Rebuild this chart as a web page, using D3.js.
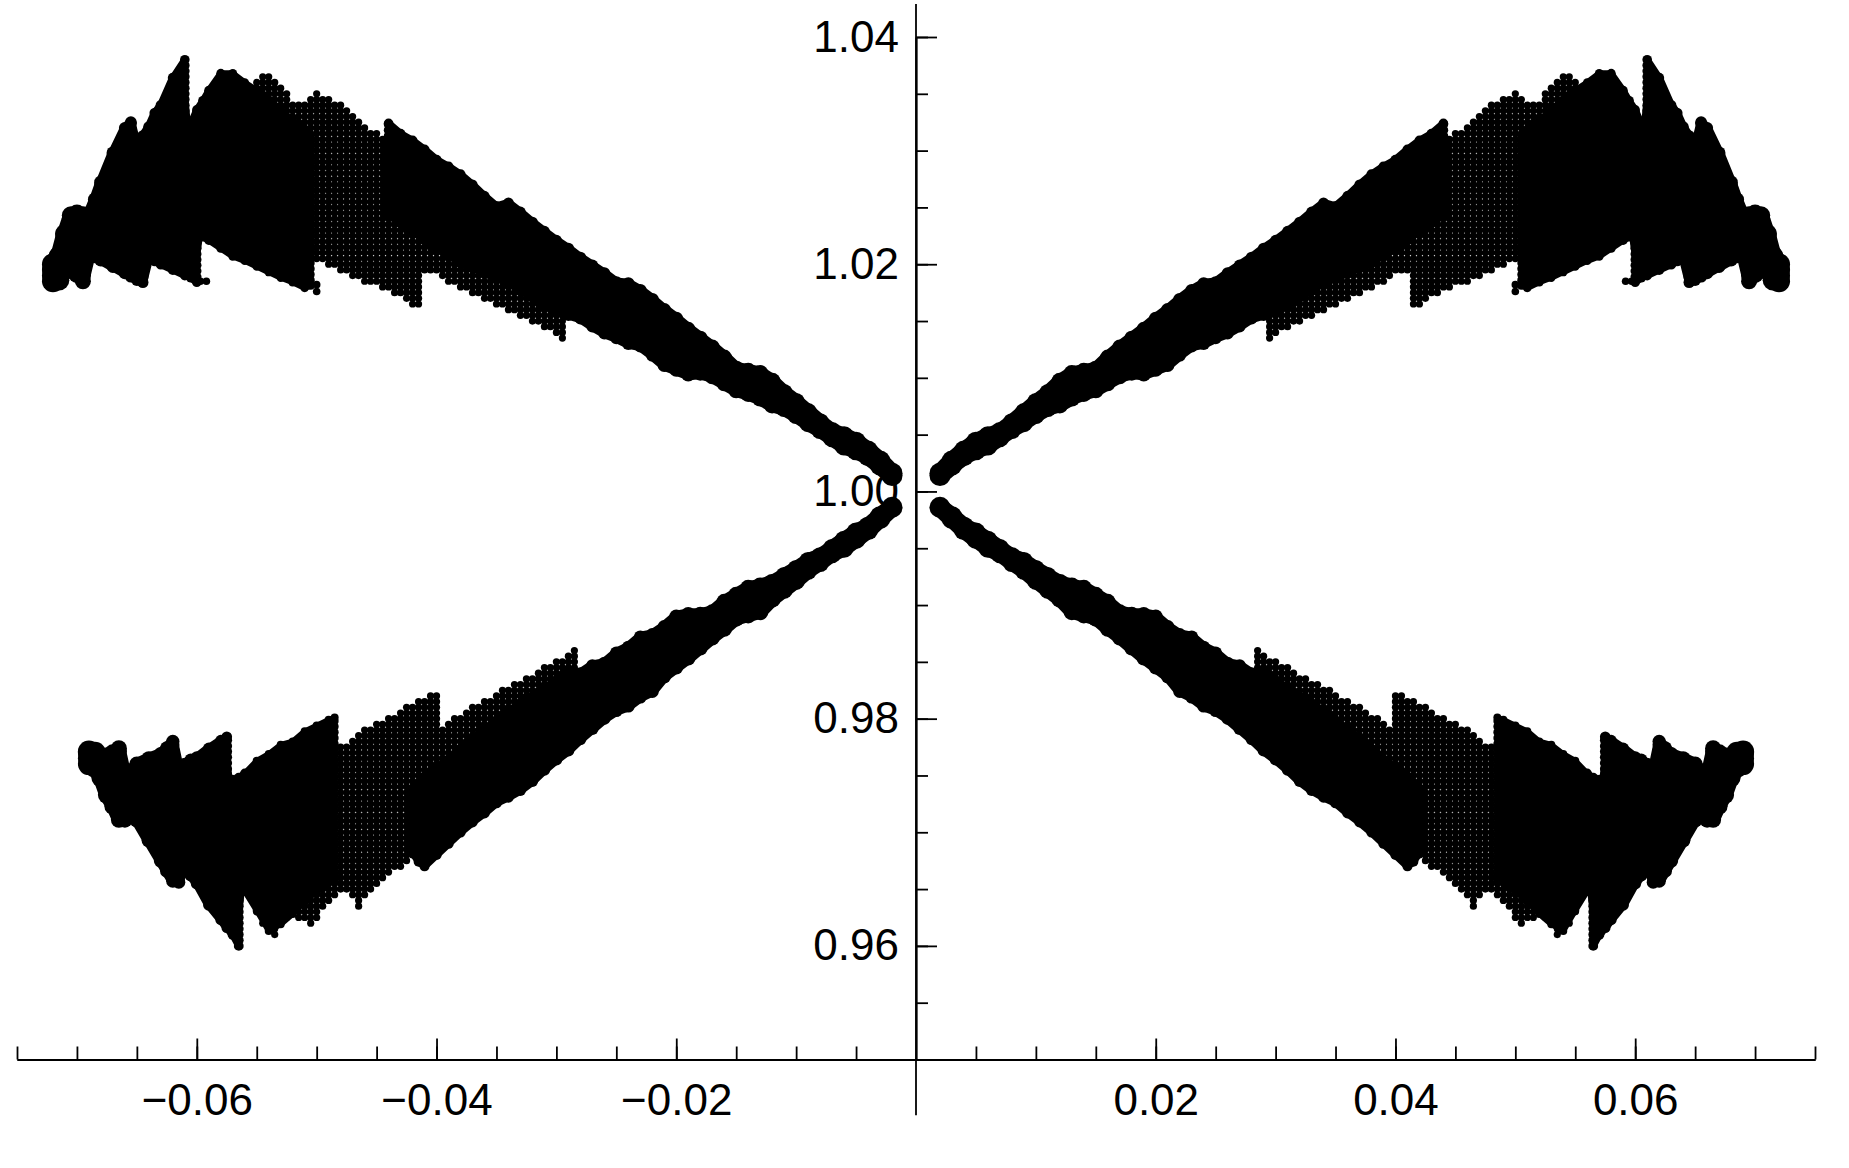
<!DOCTYPE html>
<html>
<head>
<meta charset="utf-8">
<script src="https://cdn.jsdelivr.net/npm/d3@7/dist/d3.min.js"></script>
<style>html,body{margin:0;padding:0;background:#fff}svg{display:block}</style>
</head>
<body>
<script>
// ---- values; |x| is mirrored to both sides of the axis ----
const xLabelTicks = [-0.06,-0.04,-0.02,0.02,0.04,0.06];
const xMinorTicks = [-0.075,-0.07,-0.065,-0.06,-0.055,-0.05,-0.045,-0.04,-0.035,-0.03,-0.025,-0.02,-0.015,-0.01,-0.005,0.005,0.01,0.015,0.02,0.025,0.03,0.035,0.04,0.045,0.05,0.055,0.06,0.065,0.07,0.075];
const yLabelTicks = [0.96,0.98,1.00,1.02,1.04];
const yMinorTicks = [0.95,0.955,0.96,0.965,0.97,0.975,0.98,0.985,0.99,0.995,1.0,1.005,1.01,1.015,1.02,1.025,1.03,1.035,1.04];

// upper lobe, solid band near the centre
const upperBandX = [.002,.003,.004,.005,.006,.007,.008,.009,.010,.011,.012,.013,.014,.015,.016,.017,.018,.019,.020,.021,.022,.023,.024,.025,.026,.027,.028,.029,.030,.031,.032,.033,.034,.035,.036,.037,.038,.039,.040,.041,.042,.043,.044];
const upperBandTop = [1.0016,1.0027,1.0036,1.0044,1.0049,1.0053,1.0061,1.0070,1.0079,1.0087,1.0097,1.0104,1.0106,1.0108,1.0118,1.0127,1.0135,1.0143,1.0152,1.0160,1.0169,1.0177,1.0183,1.0184,1.0192,1.0199,1.0206,1.0214,1.0221,1.0229,1.0237,1.0246,1.0254,1.0251,1.0260,1.0270,1.0279,1.0286,1.0292,1.0301,1.0309,1.0315,1.0324];
const upperBandBottom = [1.0014,1.0023,1.0031,1.0036,1.0040,1.0047,1.0054,1.0060,1.0067,1.0073,1.0076,1.0082,1.0086,1.0089,1.0095,1.0101,1.0104,1.0103,1.0107,1.0111,1.0120,1.0128,1.0130,1.0135,1.0139,1.0145,1.0152,1.0155,1.0158,1.0165,1.0171,1.0177,1.0184,1.0188,1.0192,1.0197,1.0201,1.0208,1.0214,1.0221,1.0229,1.0236,1.0243];

// upper lobe, solid saw-tooth part at the outer end
const upperTipX = [.0505,.051,.052,.053,.054,.055,.056,.057,.058,.059,.0595,.060,.0605,.061,.062,.063,.0635,.064,.0645,.065,.0655,.066,.067,.068,.0685,.069,.0695,.070,.0705,.071,.0715,.072];
const upperTipTop = [1.0314,1.0318,1.0327,1.0336,1.0345,1.0353,1.0360,1.0368,1.0368,1.0353,1.0344,1.0336,1.0324,1.0380,1.0364,1.0340,1.0333,1.0321,1.0313,1.0304,1.0325,1.0320,1.0298,1.0272,1.0257,1.0244,1.0244,1.0245,1.0243,1.0227,1.0207,1.0200];
const upperTipBottom = [1.0181,1.0179,1.0184,1.0188,1.0193,1.0198,1.0203,1.0207,1.0214,1.0221,1.0224,1.0184,1.0188,1.0190,1.0195,1.0200,1.0203,1.0205,1.0184,1.0186,1.0189,1.0192,1.0198,1.0204,1.0207,1.0207,1.0185,1.0191,1.0195,1.0196,1.0186,1.0185];

// upper lobe, open dot grid
const upperGridX = [.0295,.030,.0305,.031,.0315,.032,.0325,.033,.0335,.034,.0345,.035,.0355,.036,.0365,.037,.0375,.038,.0385,.039,.0395,.040,.0405,.041,.0415,.042,.0425,.043,.0435,.044,.0445,.045,.0455,.046,.0465,.047,.0475,.048,.0485,.049,.0495,.050,.0505,.051,.0515,.052,.0525,.053,.0535,.054,.0545,.055];
const upperGridTop = [1.0155,1.016,1.0165,1.0165,1.017,1.0175,1.0175,1.018,1.0185,1.0185,1.019,1.019,1.0195,1.02,1.02,1.0205,1.021,1.021,1.0215,1.0215,1.022,1.0225,1.0225,1.023,1.023,1.0235,1.024,1.024,1.0245,1.025,1.031,1.0315,1.0315,1.032,1.0325,1.033,1.0335,1.034,1.034,1.0345,1.0345,1.035,1.0345,1.034,1.034,1.034,1.035,1.0355,1.036,1.0365,1.0365,1.036];
const upperGridBottom = [1.0135,1.014,1.0145,1.0145,1.015,1.015,1.0155,1.0155,1.016,1.016,1.0165,1.0165,1.017,1.017,1.0175,1.0175,1.018,1.018,1.0185,1.0185,1.019,1.0195,1.0195,1.0195,1.0165,1.0165,1.017,1.0175,1.0175,1.018,1.018,1.0185,1.0185,1.0185,1.019,1.019,1.0195,1.0195,1.02,1.02,1.0205,1.0205,1.0205,1.03,1.0305,1.031,1.0315,1.032,1.0325,1.033,1.0335,1.034];
const upperStrayX = [.050,.050,.0592,.0597];
const upperStrayY = [1.0182,1.0176,1.0185,1.0185];

// lower lobe, solid band near the centre
const lowerBandX = [.002,.003,.004,.005,.006,.007,.008,.009,.010,.011,.012,.013,.014,.015,.016,.017,.018,.019,.020,.021,.022,.023,.024,.025,.026,.027,.028,.029,.030,.031,.032,.033,.034,.035,.036,.037,.038,.039,.040,.041,.0415,.042];
const lowerBandTop = [.9986,.9978,.9969,.9964,.9957,.9950,.9943,.9939,.9932,.9926,.9920,.9917,.9915,.9909,.9903,.9894,.9892,.9892,.9890,.9881,.9874,.9872,.9863,.9858,.9849,.9847,.9840,.9840,.9833,.9826,.9819,.9813,.9806,.9797,.9790,.9782,.9773,.9764,.9757,.9749,.9742,.9738];
const lowerBandBottom = [.9986,.9976,.9966,.9958,.9950,.9945,.9937,.9930,.9921,.9913,.9905,.9894,.9891,.9888,.9879,.9871,.9862,.9853,.9845,.9837,.9824,.9819,.9811,.9807,.9800,.9791,.9782,.9772,.9764,.9755,.9745,.9737,.9731,.9726,.9717,.9709,.9700,.9690,.9680,.9670,.9674,.9682];

// lower lobe, solid saw-tooth part at the outer end
const lowerTipX = [.0485,.049,.050,.051,.052,.053,.054,.055,.056,.0565,.057,.0575,.058,.059,.060,.0605,.061,.0615,.062,.0625,.063,.064,.065,.0655,.066,.0665,.067,.0675,.068,.0685,.069];
const lowerTipTop = [.9801,.9799,.9794,.9789,.9780,.9777,.9769,.9763,.9752,.9748,.9746,.9784,.9781,.9774,.9766,.9764,.9760,.9755,.9780,.9774,.9769,.9765,.9760,.9753,.9750,.9774,.9770,.9767,.9764,.9770,.9771];
const lowerTipBottom = [.9658,.9656,.9648,.9639,.9628,.9619,.9613,.9631,.9648,.9600,.9610,.9616,.9623,.9636,.9655,.9662,.9677,.9656,.9657,.9666,.9675,.9693,.9711,.9720,.9711,.9711,.9723,.9733,.9748,.9758,.9760];

// lower lobe, open dot grid
const lowerGridX = [.0285,.029,.0295,.030,.0305,.031,.0315,.032,.0325,.033,.0335,.034,.0345,.035,.0355,.036,.0365,.037,.0375,.038,.0385,.039,.0395,.040,.0405,.041,.0415,.042,.0425,.043,.0435,.044,.0445,.045,.0455,.046,.0465,.047,.0475,.048,.0485,.049,.0495,.050,.0505,.051,.0515,.052,.0525,.053,.0535,.054,.0545,.055];
const lowerGridTop = [.986,.9855,.985,.985,.9845,.9845,.984,.9835,.9835,.983,.983,.9825,.9825,.982,.9815,.9815,.981,.981,.9805,.98,.98,.9795,.979,.982,.982,.9815,.9815,.981,.981,.9805,.98,.98,.9795,.9795,.979,.979,.9785,.978,.9775,.9775,.966,.9655,.965,.965,.9645,.964,.9635,.9635,.963,.9625,.962,.962,.9625,.9635];
const lowerGridBottom = [.9835,.9835,.983,.9825,.9825,.982,.9815,.9815,.981,.981,.9805,.98,.9795,.979,.979,.9785,.978,.9775,.977,.9765,.9765,.976,.9755,.975,.975,.9745,.974,.968,.9675,.967,.967,.9665,.966,.9655,.965,.9645,.9635,.9645,.965,.965,.9645,.964,.9635,.9625,.962,.9625,.9625,.963,.9625,.962,.961,.9615,.962,.963];

// ---- layout and scales ----
const W = 1849, H = 1168;
const x = d3.scaleLinear().domain([-0.075,0.075]).range([17,1815]);
const y = d3.scaleLinear().domain([0.95,1.04]).range([1059.5,37]);
const gridRadius = 3.6, gridStep = 0.0005, cutSlope = 5, edgeInset = 1.2;
const upperRadius = d3.scaleLinear()
  .domain([.002,.008,.015,.022,.030,.044,.050,.056,.061,.066,.0685,.070,.072])
  .range([10.5,9,8,6.5,5.5,4.8,4,4.3,4.8,6,7,8.5,11]);
const lowerRadius = d3.scaleLinear()
  .domain([.002,.008,.015,.022,.029,.041,.0485,.055,.057,.060,.063,.0665,.068,.0685,.069])
  .range([10.5,9,8,6.5,6,5,4,4,5.2,6,7,8,9.5,11,11]);

const svg = d3.select("body").append("svg").attr("width",W).attr("height",H)
  .style("font-family","'Liberation Sans',Arial,sans-serif");

// ---- axes (drawn first: the dots sit over the 1.00 label) ----
const fmt = d3.format(".2f");
function styleAxis(g){
  g.selectAll("path,line").attr("stroke","#000").attr("stroke-width",1.8);
  g.selectAll("text").attr("fill","#000").style("font-size","44px");
}
svg.append("g").attr("transform",`translate(0,${y(0.95)})`)
  .call(d3.axisBottom(x).tickValues(xMinorTicks).tickSizeInner(-13).tickSizeOuter(0).tickFormat(""))
  .call(styleAxis);
svg.append("g").attr("transform",`translate(0,${y(0.95)})`)
  .call(d3.axisBottom(x).tickValues(xLabelTicks).tickSizeInner(-21).tickSizeOuter(0).tickPadding(24).tickFormat(fmt))
  .call(styleAxis);
svg.append("g").attr("transform",`translate(${x(0)},0)`)
  .call(d3.axisRight(y).tickValues(yMinorTicks).tickSizeInner(12).tickSizeOuter(0).tickFormat(""))
  .call(styleAxis);
const yMajor = svg.append("g").attr("transform",`translate(${x(0)},0)`)
  .call(d3.axisRight(y).tickValues(yLabelTicks).tickSizeInner(21).tickSizeOuter(0).tickFormat(fmt))
  .call(styleAxis);
yMajor.selectAll("text").attr("x",-17).attr("text-anchor","end");
svg.append("line").attr("x1",x(0)).attr("x2",x(0)).attr("y1",y(1.0429)).attr("y2",y(0.9451))
  .attr("stroke","#000").attr("stroke-width",1.8);

// ---- marks ----
const plot = svg.append("g");
function columnDots(xs,tops,bottoms){
  const pts=[];
  xs.forEach((v,i)=>{
    const ys=d3.range(bottoms[i],tops[i]+1e-6,gridStep);
    if(ys.length===0||Math.abs(ys[ys.length-1]-tops[i])>1e-5) ys.push(tops[i]);
    ys.forEach(w=>pts.push([v,w]));
  });
  return pts;
}
function drawDots(sign,pts,r){
  plot.append("g").selectAll("circle").data(pts).join("circle")
    .attr("cx",d=>x(sign*d[0])).attr("cy",d=>y(d[1])).attr("r",d=>r(d[0])).attr("fill","#000");
}
// joins neighbouring column ends a little inside the dot edge, leaving a fine scallop
function drawEdge(sign,xs,vals,r){
  const links=d3.pairs(xs.map((v,i)=>[v,vals[i]]))
    .filter(([a,b])=>Math.abs(b[1]-a[1])/Math.abs(b[0]-a[0])<cutSlope);
  plot.append("g").selectAll("line").data(links).join("line")
    .attr("x1",d=>x(sign*d[0][0])).attr("y1",d=>y(d[0][1]))
    .attr("x2",d=>x(sign*d[1][0])).attr("y2",d=>y(d[1][1]))
    .attr("stroke","#000").attr("stroke-linecap","round")
    .attr("stroke-width",d=>2*(Math.min(r(d[0][0]),r(d[1][0]))-edgeInset));
}
function drawSolid(sign,xs,tops,bottoms,r){
  const rows=xs.map((v,i)=>[v,tops[i],bottoms[i]]);
  plot.append("path").datum(rows)
    .attr("d",d3.area().x(d=>x(sign*d[0])).y0(d=>y(d[2])).y1(d=>y(d[1])))
    .attr("fill","#000");
  drawEdge(sign,xs,tops,r);
  drawEdge(sign,xs,bottoms,r);
  drawDots(sign,columnDots(xs,tops,bottoms),r);
}
[-1,1].forEach(sign=>{
  drawDots(sign,columnDots(upperGridX,upperGridTop,upperGridBottom),()=>gridRadius);
  drawDots(sign,columnDots(lowerGridX,lowerGridTop,lowerGridBottom),()=>gridRadius);
  drawDots(sign,upperStrayX.map((v,i)=>[v,upperStrayY[i]]),()=>3.8);
  drawSolid(sign,upperBandX,upperBandTop,upperBandBottom,upperRadius);
  drawSolid(sign,upperTipX,upperTipTop,upperTipBottom,upperRadius);
  drawSolid(sign,lowerBandX,lowerBandTop,lowerBandBottom,lowerRadius);
  drawSolid(sign,lowerTipX,lowerTipTop,lowerTipBottom,lowerRadius);
});
</script>
</body>
</html>
